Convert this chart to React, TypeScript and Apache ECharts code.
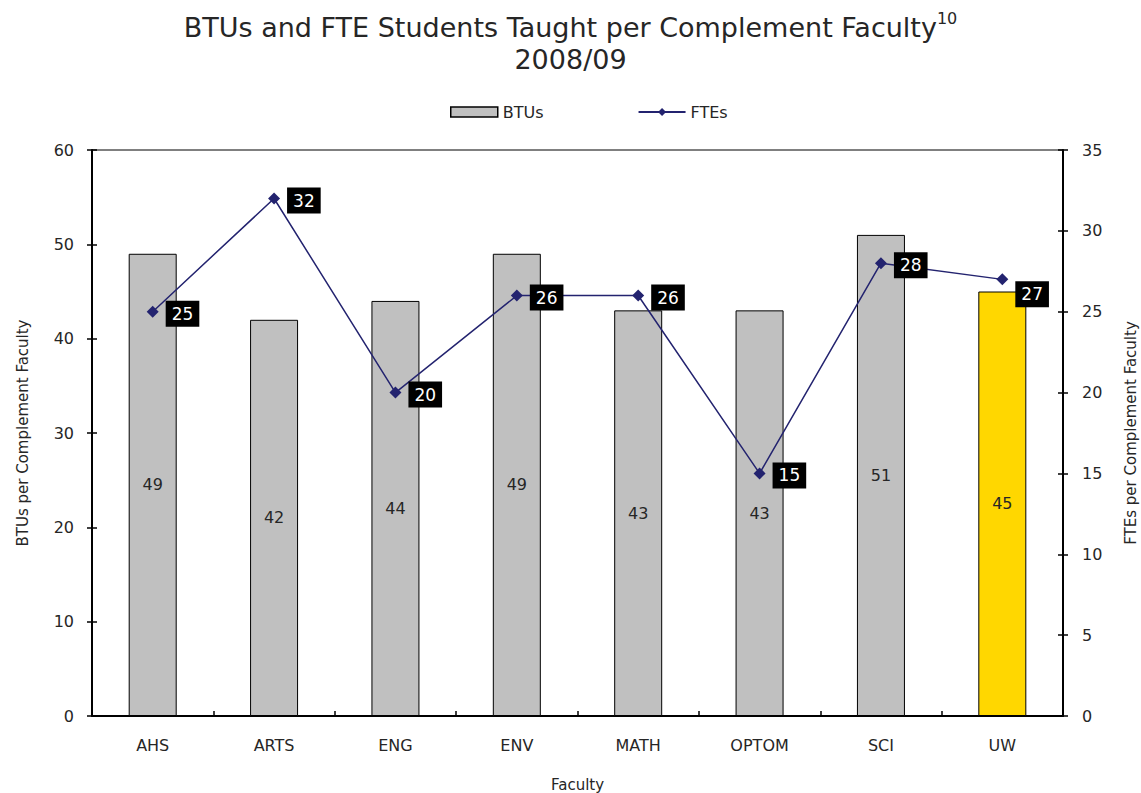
import React, { useEffect, useRef } from "react";
import * as echarts from "echarts";

const categories = ["AHS", "ARTS", "ENG", "ENV", "MATH", "OPTOM", "SCI", "UW"];
const btus = [49, 42, 44, 49, 43, 43, 51, 45];
const ftes = [25, 32, 20, 26, 26, 15, 28, 27];
const leftTicks = { min: 0, max: 60, interval: 10 };
const rightTicks = { min: 0, max: 35, interval: 5 };

const FONT = "DejaVu Sans";
const TEXT = "#262626";
const LINE = "#23236F";

export default function App() {
  const ref = useRef<HTMLDivElement>(null);
  useEffect(() => {
    if (!ref.current) return;
    const chart = echarts.init(ref.current, undefined, { renderer: "svg" });
    const barData = btus.map((v, i) => ({
      value: v,
      itemStyle: {
        color: categories[i] === "UW" ? "#FFD700" : "#C0C0C0",
        borderColor: "#000",
        borderWidth: 1,
      },
    }));
    const lineData = ftes.map((v, i) => ({
      value: v,
      label: categories[i] === "UW" ? { offset: [0, 15] } : {},
    }));
    const innerTick = { show: true, inside: true, length: 5, lineStyle: { color: "#000", width: 1.5 } };
    chart.setOption({
      animation: false,
      textStyle: { fontFamily: FONT },
      title: [
        {
          text: "{a|BTUs and FTE Students Taught per Complement Faculty}{s|10}",
          left: "center",
          top: 5,
          textStyle: {
            rich: {
              a: { fontFamily: FONT, fontSize: 27, color: TEXT, fontWeight: "normal" },
              s: { fontFamily: FONT, fontSize: 16, color: TEXT, fontWeight: "normal", verticalAlign: "top", padding: [0, 0, 18, 0] },
            },
          },
        },
        {
          text: "2008/09",
          left: "center",
          top: 41,
          textStyle: { fontFamily: FONT, fontSize: 27, color: TEXT, fontWeight: "normal" },
        },
      ],
      legend: {
        top: 104,
        left: 450,
        padding: 0,
        itemGap: 94,
        itemWidth: 47,
        itemHeight: 10,
        textStyle: { fontFamily: FONT, fontSize: 16, color: TEXT, padding: [0, 0, 0, 0] },
        data: [
          { name: "BTUs", icon: "rect", itemStyle: { color: "#C0C0C0", borderColor: "#000", borderWidth: 1.5 } },
          { name: "FTEs" },
        ],
      },
      grid: {
        left: 92,
        right: 78,
        top: 150,
        bottom: 77,
        outerBoundsMode: "none",
        containLabel: false,
        show: true,
        borderColor: "#000",
        borderWidth: 1,
      },
      xAxis: [
        {
          type: "category",
          data: categories,
          name: "Faculty",
          nameLocation: "middle",
          nameGap: 61,
          nameTextStyle: { fontFamily: FONT, fontSize: 15, color: TEXT },
          axisLine: { lineStyle: { color: "#000", width: 2 } },
          axisTick: { length: 5, lineStyle: { color: "#000", width: 1.5 } },
          axisLabel: { fontFamily: FONT, fontSize: 16, color: TEXT, margin: 21 },
        },
        {
          type: "category",
          data: categories,
          position: "bottom",
          axisLine: { show: false },
          axisTick: innerTick,
          axisLabel: { show: false },
        },
      ],
      yAxis: [
        {
          type: "value",
          ...leftTicks,
          name: "BTUs per Complement Faculty",
          nameLocation: "middle",
          nameGap: 62,
          nameRotate: 90,
          nameTextStyle: { fontFamily: FONT, fontSize: 15, color: TEXT },
          axisLine: { show: true, lineStyle: { color: "#000", width: 2 } },
          axisTick: { show: true, length: 5, lineStyle: { color: "#000", width: 1.5 } },
          axisLabel: { fontFamily: FONT, fontSize: 16, color: TEXT, margin: 18 },
          splitLine: { show: false },
        },
        {
          type: "value",
          ...rightTicks,
          position: "right",
          name: "FTEs per Complement Faculty",
          nameLocation: "middle",
          nameGap: 60,
          nameRotate: 90,
          nameTextStyle: { fontFamily: FONT, fontSize: 15, color: TEXT },
          axisLine: { show: true, lineStyle: { color: "#000", width: 2 } },
          axisTick: { show: true, length: 5, lineStyle: { color: "#000", width: 1.5 } },
          axisLabel: { fontFamily: FONT, fontSize: 16, color: TEXT, margin: 19 },
          splitLine: { show: false },
        },
        {
          type: "value",
          ...leftTicks,
          position: "left",
          axisLine: { show: false },
          axisTick: innerTick,
          axisLabel: { show: false },
          splitLine: { show: false },
        },
        {
          type: "value",
          ...rightTicks,
          position: "right",
          axisLine: { show: false },
          axisTick: innerTick,
          axisLabel: { show: false },
          splitLine: { show: false },
        },
      ],
      series: [
        {
          name: "BTUs",
          type: "bar",
          yAxisIndex: 0,
          barWidth: 48,
          data: barData,
          itemStyle: { color: "#C0C0C0", borderColor: "#000", borderWidth: 1 },
          label: {
            show: true,
            position: "inside",
            fontFamily: FONT,
            fontSize: 16,
            color: TEXT,
          },
          z: 1,
        },
        {
          name: "FTEs",
          type: "line",
          yAxisIndex: 1,
          data: lineData,
          symbol: "diamond",
          symbolSize: 12,
          itemStyle: { color: LINE },
          lineStyle: { color: LINE, width: 1.5 },
          label: {
            show: true,
            position: "right",
            distance: 7,
            offset: [0, 2],
            fontFamily: FONT,
            fontSize: 17,
            color: "#fff",
            backgroundColor: "#000",
            padding: [5, 6, 4, 6],
          },
          z: 3,
        },
      ],
    });
    return () => chart.dispose();
  }, []);
  return (
    <div
      ref={ref}
      style={{ position: "fixed", left: 0, top: 0, width: 1141, height: 793, background: "#fff" }}
    />
  );
}
